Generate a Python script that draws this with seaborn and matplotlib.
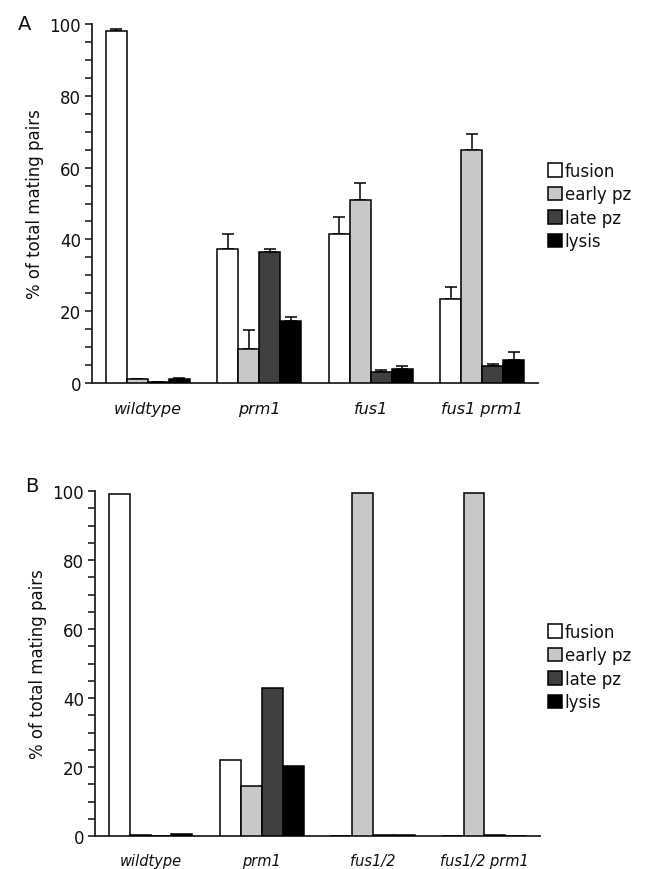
import matplotlib
matplotlib.use("Agg")
import matplotlib.pyplot as plt
from matplotlib.ticker import FixedLocator, MultipleLocator
import seaborn as sns
import pandas as pd
import numpy as np

stages = ["fusion", "early pz", "late pz", "lysis"]
colors = ["#ffffff", "#c8c8c8", "#404040", "#000000"]

groups_a = ["wildtype", "prm1", "fus1", "fus1 prm1"]
fusion_a = [98.0, 37.4, 41.6, 23.5]
early_a = [1.0, 9.4, 50.9, 64.9]
late_a = [0.3, 36.5, 3.1, 4.6]
lysis_a = [1.0, 17.4, 3.9, 6.3]
err_fusion_a = [0.5, 4.0, 4.7, 3.3]
err_early_a = [0.2, 5.3, 4.8, 4.4]
err_late_a = [0.1, 0.7, 0.6, 0.8]
err_lysis_a = [0.3, 1.0, 0.8, 2.3]

groups_b = ["wildtype", "prm1", "fus1/2", "fus1/2 prm1"]
fusion_b = [99.0, 22.0, 0.0, 0.0]
early_b = [0.3, 14.5, 99.3, 99.5]
late_b = [0.0, 43.0, 0.2, 0.4]
lysis_b = [0.6, 20.3, 0.2, 0.1]

y_ticks = [0, 20, 40, 60, 80, 100]

sns.set_theme(style="white")
plt.rcParams["font.family"] = ["DejaVu Sans"]
for k in ["text.color", "axes.labelcolor", "xtick.color", "ytick.color"]:
    plt.rcParams[k] = "#111111"


def long_df(groups, series):
    rows = []
    for stage, vals in zip(stages, series):
        for g, v in zip(groups, vals):
            rows.append({"strain": g, "stage": stage, "value": v})
    return pd.DataFrame(rows)


def style_axes(ax, groups, xfs, xpad):
    ax.set_xlim(-0.5, len(groups) - 0.5)
    ax.set_ylim(0, 100)
    ax.set_yticks(y_ticks)
    ax.yaxis.set_minor_locator(MultipleLocator(5))
    ax.xaxis.set_minor_locator(FixedLocator(np.arange(-0.5, len(groups), 1.0)))
    ax.set_xticks(range(len(groups)))
    ax.set_xticklabels(groups, fontstyle="italic", fontsize=xfs)
    ax.tick_params(axis="x", which="major", length=0, pad=xpad)
    ax.tick_params(axis="x", which="minor", length=5, width=1.2, direction="out", color="#222222")
    ax.tick_params(axis="y", which="both", length=5, width=1.2, direction="out", color="#222222",
                   labelsize=12, left=True, pad=3)
    for s in ["top", "right"]:
        ax.spines[s].set_visible(False)
    for s in ["left", "bottom"]:
        ax.spines[s].set_linewidth(1.3)
        ax.spines[s].set_color("#222222")
    ax.set_xlabel("")
    ax.set_ylabel("% of total mating pairs", fontsize=12, labelpad=4)


fig = plt.figure(figsize=(6.45, 8.7), dpi=100)
ax_a = fig.add_axes([92 / 645, 1 - 384 / 870, 446 / 645, 359 / 870])
ax_b = fig.add_axes([95 / 645, 1 - 837 / 870, 445 / 645, 345 / 870])

df_a = long_df(groups_a, [fusion_a, early_a, late_a, lysis_a])
df_b = long_df(groups_b, [fusion_b, early_b, late_b, lysis_b])

for ax, df, groups, xfs, xpad in [(ax_a, df_a, groups_a, 11.5, 13), (ax_b, df_b, groups_b, 10.5, 12)]:
    sns.barplot(data=df, x="strain", y="value", hue="stage", hue_order=stages,
                palette=colors, order=groups, width=0.75, errorbar=None,
                edgecolor="black", linewidth=1.1, ax=ax, zorder=3)
    style_axes(ax, groups, xfs, xpad)

# error bars (upward only) for panel A
errs_a = [err_fusion_a, err_early_a, err_late_a, err_lysis_a]
for cont, errs in zip(ax_a.containers, errs_a):
    xs = [p.get_x() + p.get_width() / 2 for p in cont.patches]
    hs = [p.get_height() for p in cont.patches]
    ax_a.errorbar(xs, hs, yerr=[np.zeros(len(errs)), errs], fmt="none",
                  ecolor="black", elinewidth=1.1, capsize=4, capthick=1.1, zorder=2)

for ax, top in [(ax_a, 0.813), (ax_b, 0.283)]:
    handles, labels = ax.get_legend_handles_labels()
    if ax.get_legend() is not None:
        ax.get_legend().remove()
    fig.legend(handles, labels, loc="upper left", bbox_to_anchor=(548 / 645, top),
               frameon=False, fontsize=12, handlelength=0.85, handleheight=0.85,
               handletextpad=0.15, labelspacing=0.33, borderpad=0, borderaxespad=0)

fig.text(18 / 645, 1 - 25 / 870, "A", fontsize=14, va="center", ha="left")
fig.text(25 / 645, 1 - 487 / 870, "B", fontsize=14, va="center", ha="left")

fig.savefig("out.png", dpi=100, facecolor="white")
